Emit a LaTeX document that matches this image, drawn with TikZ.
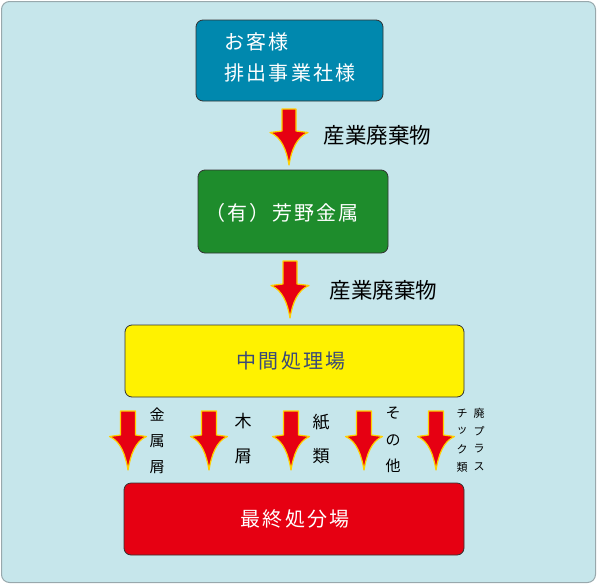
\documentclass[tikz,border=0pt]{standalone}
\usepackage{fontspec}
\newfontfamily\jp{Noto Sans CJK JP}
\newfontfamily\jpsp[LetterSpace=11]{Noto Sans CJK JP}
\definecolor{bg}{HTML}{C6E6EB}
\definecolor{bgline}{HTML}{98A8AC}
\definecolor{bluebox}{HTML}{0088AE}
\definecolor{greenbox}{HTML}{1E8C2C}
\definecolor{yellowbox}{HTML}{FFF200}
\definecolor{redbox}{HTML}{E60012}
\definecolor{arrred}{HTML}{E60012}
\definecolor{arrglow}{HTML}{FFD000}
\definecolor{midtext}{HTML}{3A4A78}
\tikzset{
  box/.style={draw=black!80, line width=0.8pt, rounded corners=7pt},
  boxtext/.style={font=\jpsp\fontsize{20}{20}\selectfont, text=white},
  lbl/.style={font=\jp\fontsize{21.5}{21.5}\selectfont, text=black, anchor=west},
  vl/.style={font=\jp\fontsize{15}{15}\selectfont, text=black},
  vs/.style={font=\jp\fontsize{11}{11}\selectfont, text=black},
  fatarrow/.style={fill=arrred, draw=arrglow, line width=1.2pt, line join=round}
}
% big arrow: center x, top y, head y, tip y, half shaft, half head
\newcommand{\bigarr}[6]{%
  \path[fatarrow] (#1-#5,#2) -- (#1+#5,#2) -- (#1+#5,#3) -- (#1+#6,#3+1.5)
   .. controls (#1+#6*0.4,#3+6) and (#1+2.5,#4-15) .. (#1,#4)
   .. controls (#1-2.5,#4-15) and (#1-#6*0.4,#3+6) .. (#1-#6,#3+1.5) -- (#1-#5,#3) -- cycle;}
\begin{document}
\begin{tikzpicture}[x=1pt,y=-1pt]
\useasboundingbox (0,0) rectangle (597,584);
\path[fill=bg, draw=bgline, line width=1pt, rounded corners=8pt] (1.5,1.5) rectangle (595.5,582.5);

\node[box, fill=bluebox, minimum width=187pt, minimum height=81pt] (b1) at (289.5,60.5) {};
\node[boxtext, anchor=west] (t1a) at (221,42) {お客様};
\node[boxtext, anchor=west] (t1b) at (221,73) {排出事業社様};

\node[box, fill=greenbox, minimum width=190pt, minimum height=83pt] (b2) at (293,211.5) {};
\node[boxtext, anchor=west] (t2) at (202,213) {（有）芳野金属};

\node[box, fill=yellowbox, minimum width=339pt, minimum height=72pt] (b3) at (294.5,361) {};
\node[boxtext, text=midtext] (t3) at (291,361) {中間処理場};

\node[box, fill=redbox, minimum width=340pt, minimum height=72pt] (b4) at (294,519) {};
\node[boxtext] (t4) at (295,519) {最終処分場};

% big arrows
\bigarr{289}{109}{131}{165}{7}{19}
\node[lbl] (l1) at (320,135) {産業廃棄物};
\bigarr{290}{261}{284}{318}{7}{19}
\node[lbl] (l2) at (326,290) {産業廃棄物};

% small arrows
\foreach \cx in {128,209,291,364,436}{
  \bigarr{\cx}{411}{435}{470}{7.5}{18.5}
}

% vertical labels
\node[vl] (a1) at (157,415) {金};
\node[vl] (a2) at (157,441) {属};
\node[vl] (a3) at (157,467) {屑};
\node[vl,font=\jp\fontsize{17}{17}\selectfont] (b1t) at (243,421) {木};
\node[vl,font=\jp\fontsize{17}{17}\selectfont] (b2t) at (243,456) {屑};
\node[vl,font=\jp\fontsize{17}{17}\selectfont] (c1) at (321,422) {紙};
\node[vl,font=\jp\fontsize{17}{17}\selectfont] (c2) at (321,456) {類};
\node[vl] (d1) at (393,413) {そ};
\node[vl] (d2) at (393,440) {の};
\node[vl] (d3) at (393,466) {他};
\node[vs] (e1) at (479,413) {廃};
\node[vs] (e2) at (479,431) {プ};
\node[vs] (e3) at (479,449) {ラ};
\node[vs] (e4) at (479,467) {ス};
\node[vs] (f1) at (462,413) {チ};
\node[vs] (f2) at (462,431) {ッ};
\node[vs] (f3) at (462,449) {ク};
\node[vs] (f4) at (462,467) {類};
\end{tikzpicture}
\end{document}
